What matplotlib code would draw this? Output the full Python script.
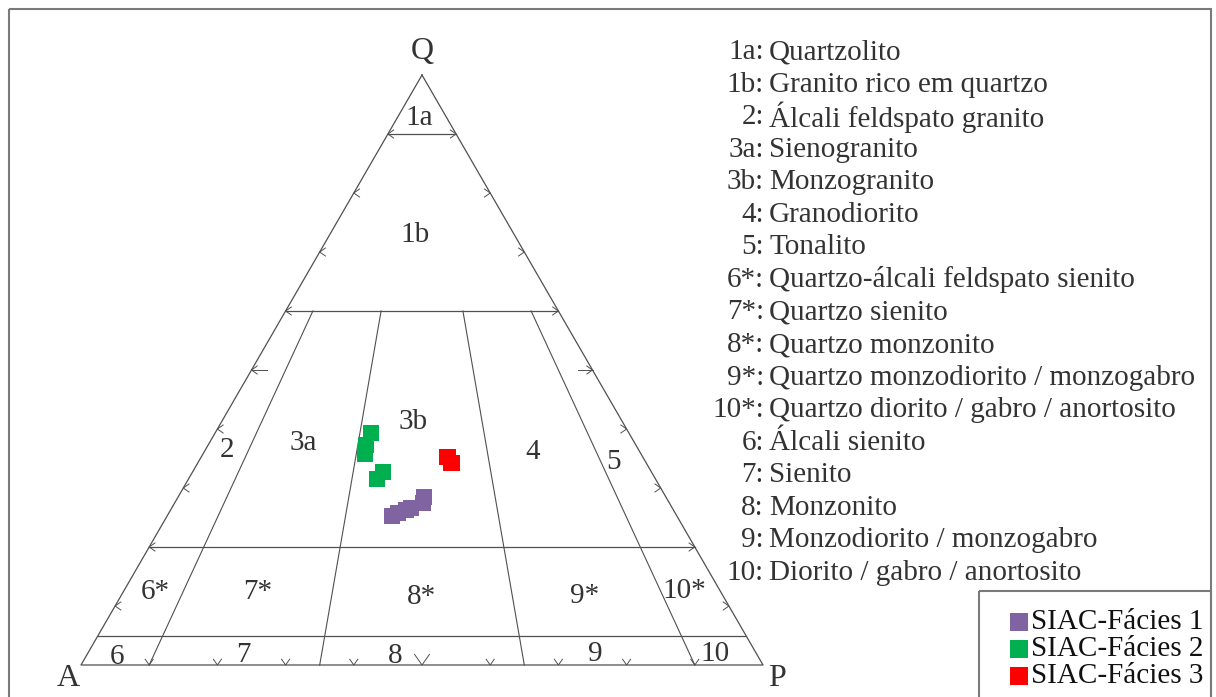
import matplotlib
matplotlib.use("Agg")
import matplotlib.pyplot as plt
import numpy as np
from matplotlib.patches import Rectangle

plt.rcParams['font.family'] = ['Liberation Serif', 'DejaVu Serif']

# QAP modal compositions (%)
fac1_q = [25.3, 25.8, 26.3, 26.6, 27.5, 28.5]
fac1_a = [41.8, 40.6, 39.2, 38.3, 36.1, 35.5]
fac1_p = [33.0, 33.6, 34.5, 35.1, 36.4, 36.1]

fac2_q = [39.3, 37.3, 35.8, 31.5, 32.7]
fac2_a = [37.8, 39.6, 40.5, 40.8, 39.4]
fac2_p = [22.9, 23.1, 23.8, 27.6, 27.9]

fac3_q = [35.3, 34.2]
fac3_a = [28.6, 28.6]
fac3_p = [36.1, 37.2]

series_names = ['SIAC-Fácies 1', 'SIAC-Fácies 2', 'SIAC-Fácies 3']
series_colors = ['#8064A2', '#00B050', '#FF0000']

# Streckeisen field boundaries
q_levels = [0.90, 0.60, 0.20, 0.05]
p_ratios = [0.10, 0.35, 0.65, 0.90]

field_codes = ['1a', '1b', '2', '3a', '3b', '4', '5', '6*', '7*', '8*', '9*',
               '10*', '6', '7', '8', '9', '10']
field_names = ['Quartzolito', 'Granito rico em quartzo', 'Álcali feldspato granito',
               'Sienogranito', 'Monzogranito', 'Granodiorito', 'Tonalito',
               'Quartzo-álcali feldspato sienito', 'Quartzo sienito',
               'Quartzo monzonito', 'Quartzo monzodiorito / monzogabro',
               'Quartzo diorito / gabro / anortosito', 'Álcali sienito', 'Sienito',
               'Monzonito', 'Monzodiorito / monzogabro', 'Diorito / gabro / anortosito']

# where each field number sits in the picture (pixels)
field_label_pos = {'1a': (419, 118), '1b': (415, 235), '2': (227, 450), '3a': (303, 443),
                   '3b': (413, 422), '4': (533, 452), '5': (613, 462), '6*': (155, 592),
                   '7*': (258, 592), '8*': (421, 597), '9*': (585, 596), '10*': (684, 591),
                   '6': (117, 657), '7': (243, 655), '8': (395, 656), '9': (595, 654),
                   '10': (715, 654)}

# triangle corners in pixels
VA = np.array([81.0, 665.0])
VP = np.array([763.0, 665.0])
VQ = np.array([422.0, 75.0])

TXT = '#333333'
LINE = '#505050'


def tern(q, a, p):
    q = np.asarray(q, float)
    a = np.asarray(a, float)
    p = np.asarray(p, float)
    s = q + a + p
    x = (a * VA[0] + p * VP[0] + q * VQ[0]) / s
    y = (a * VA[1] + p * VP[1] + q * VQ[1]) / s
    return x, y


fig = plt.figure(figsize=(12.16, 6.97), dpi=100)
ax = fig.add_axes([0, 0, 1, 1])
ax.set_xlim(0, 1216)
ax.set_ylim(697, 0)
ax.axis('off')

# outer frame and legend box
ax.add_patch(Rectangle((9, 9), 1202, 720, fill=False, ec='#7a7a7a', lw=1.5))
ax.add_patch(Rectangle((979, 591), 232, 140, fill=False, ec='#7a7a7a', lw=1.5))

# triangle
tx, ty = tern([1, 0, 0, 1], [0, 1, 0, 0], [0, 0, 1, 0])
ax.plot(tx, ty, color=LINE, lw=0.9)

# horizontal Q lines
for q in q_levels:
    x, y = tern([q, q], [1 - q, 0], [0, 1 - q])
    ax.plot(x, y, color=LINE, lw=0.9)

# P/(A+P) lines from Q=60 to base
for r in p_ratios:
    x, y = tern([0.6, 0], [0.4 * (1 - r), 1 - r], [0.4 * r, r])
    ax.plot(x, y, color=LINE, lw=0.8)

# small arrow ticks every 10 %
ang = np.radians(35)
for k in range(1, 10):
    f = k / 10
    big = (k == 5)
    L = 7
    # left edge
    x0, y0 = tern(f, 1 - f, 0)
    ax.plot([x0 + L * np.cos(ang), x0, x0 + L * np.cos(ang)],
            [y0 - L * np.sin(ang), y0, y0 + L * np.sin(ang)], color=LINE, lw=0.7)
    if big:
        ax.plot([x0, x0 + 15], [y0, y0], color=LINE, lw=0.7)
    # right edge
    x0, y0 = tern(f, 0, 1 - f)
    ax.plot([x0 - L * np.cos(ang), x0, x0 - L * np.cos(ang)],
            [y0 - L * np.sin(ang), y0, y0 + L * np.sin(ang)], color=LINE, lw=0.7)
    if big:
        ax.plot([x0, x0 - 15], [y0, y0], color=LINE, lw=0.7)
    # base
    x0, y0 = tern(0, 1 - f, f)
    Lb = 13 if big else 7
    ax.plot([x0 - Lb * np.sin(ang), x0, x0 + Lb * np.sin(ang)],
            [y0 - Lb * np.cos(ang), y0, y0 - Lb * np.cos(ang)], color=LINE, lw=0.7)

# corner labels
ax.text(422, 52, 'Q', fontsize=23, color=TXT, ha='center', va='center')
ax.text(68, 678, 'A', fontsize=23, color=TXT, ha='center', va='center')
ax.text(777, 678, 'P', fontsize=23, color=TXT, ha='center', va='center')

for code, (x, y) in field_label_pos.items():
    ax.text(x, y, code, fontsize=21, color=TXT, ha='center', va='center')

# samples
series = [(fac1_q, fac1_a, fac1_p), (fac2_q, fac2_a, fac2_p), (fac3_q, fac3_a, fac3_p)]
for (q, a, p), c in zip(series, series_colors):
    x, y = tern(q, a, p)
    ax.scatter(x, y, marker='s', s=140, color=c, edgecolors='none', zorder=5)

# field list
for i, (code, name) in enumerate(zip(field_codes, field_names)):
    y = 52 + i * 32.56
    ax.text(764, y, code + ':', fontsize=21, color=TXT, ha='right', va='center')
    ax.text(769, y, name, fontsize=21, color=TXT, ha='left', va='center')

# legend
for i, (name, c) in enumerate(zip(series_names, series_colors)):
    y = 622 + i * 27
    ax.scatter([1019], [y], marker='s', s=150, color=c, edgecolors='none')
    ax.text(1031, y, name, fontsize=21, color='#111111', ha='left', va='center')

fig.savefig('out.png', dpi=100)
